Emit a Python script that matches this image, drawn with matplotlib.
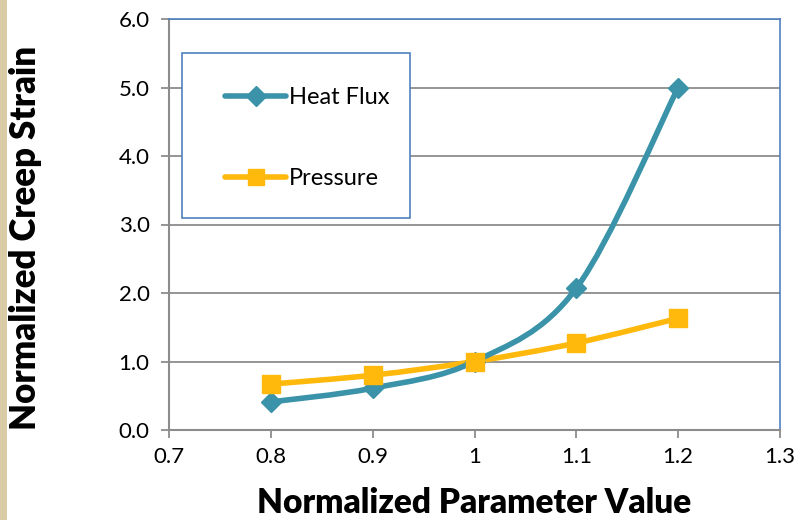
import numpy as np
import matplotlib
matplotlib.use("Agg")
import matplotlib.pyplot as plt
from matplotlib.patches import Rectangle
from matplotlib.path import Path
from matplotlib.patches import PathPatch
from matplotlib.lines import Line2D

x_vals = [0.8, 0.9, 1.0, 1.1, 1.2]
heat_flux = [0.41, 0.61, 1.0, 2.07, 5.0]
pressure = [0.67, 0.80, 1.0, 1.27, 1.63]
x_ticks = [0.7, 0.8, 0.9, 1.0, 1.1, 1.2, 1.3]
x_tick_labels = ["0.7", "0.8", "0.9", "1", "1.1", "1.2", "1.3"]
y_ticks = [0.0, 1.0, 2.0, 3.0, 4.0, 5.0, 6.0]
y_tick_labels = ["0.0", "1.0", "2.0", "3.0", "4.0", "5.0", "6.0"]

teal = "#3a93a8"
gold = "#ffb80c"
font = "Lato"

fig = plt.figure(figsize=(7.96, 5.20), dpi=100)
fig.patches.append(Rectangle((0, 0), 7 / 796, 1, transform=fig.transFigure,
                             facecolor="#d9cba5", edgecolor="none", zorder=0))
L, R, T, B = 169, 780, 19, 430
ax = fig.add_axes([L / 796, 1 - B / 520, (R - L) / 796, (B - T) / 520])
ax.set_xlim(0.7, 1.3)
ax.set_ylim(0, 6)


def px(xp, yp):
    return ((xp - L) / (R - L), (B - yp) / (B - T))


def smooth_path(xs, ys, ax):
    # Excel-style smoothing: Catmull-Rom bezier in display space
    pts = ax.transData.transform(np.column_stack([xs, ys]))
    n = len(pts)
    verts = [pts[0]]
    codes = [Path.MOVETO]
    for i in range(n - 1):
        p0 = pts[i - 1] if i > 0 else pts[i]
        p1 = pts[i]
        p2 = pts[i + 1]
        p3 = pts[i + 2] if i + 2 < n else pts[i + 1]
        c1 = p1 + (p2 - p0) / 6.0
        c2 = p2 - (p3 - p1) / 6.0
        verts += [c1, c2, p2]
        codes += [Path.CURVE4] * 3
    return Path(verts, codes)


fig.canvas.draw()
for ys, col in [(pressure, gold), (heat_flux, teal)]:
    p = smooth_path(x_vals, ys, ax)
    ax.add_patch(PathPatch(p, transform=None, facecolor="none", edgecolor=col,
                           lw=4, capstyle="round", zorder=3))
for ys, col, mk, ms in [(heat_flux, teal, "D", 10), (pressure, gold, "s", 13)]:
    ax.plot(x_vals, ys, linestyle="none", marker=mk, markersize=ms,
            color=col, markeredgecolor=col, zorder=4)

ax.set_xticks(x_ticks)
ax.set_xticklabels(x_tick_labels, fontsize=16, fontfamily=font)
ax.set_yticks(y_ticks)
ax.set_yticklabels(y_tick_labels, fontsize=16, fontfamily=font)
ax.yaxis.grid(True, color="#8c8c8c", lw=1.3)
ax.set_axisbelow(True)
ax.tick_params(axis="both", direction="out", length=6, width=1.3, color="#8c8c8c", pad=6)
ax.tick_params(axis="y", pad=8)
for s in ["left", "bottom"]:
    ax.spines[s].set_color("#8c8c8c")
    ax.spines[s].set_linewidth(1.5)
for s in ["top", "right"]:
    ax.spines[s].set_color("#4f81bd")
    ax.spines[s].set_linewidth(1.2)

ax.set_xlabel("Normalized Parameter Value", fontsize=24, fontweight="heavy",
              fontfamily=font, va="center")
ax.xaxis.set_label_coords(*px(474, 503))
ax.set_ylabel("Normalized Creep Strain", fontsize=25, fontweight="heavy",
              fontfamily=font, va="center")
ax.yaxis.set_label_coords(*px(26, 238))

# legend frame
x0, y0 = px(182, 218)
x1, y1 = px(410, 53)
ax.add_patch(Rectangle((x0, y0), x1 - x0, y1 - y0, transform=ax.transAxes,
                       facecolor="white", edgecolor="#4f81bd", lw=1.2, zorder=5))

handles = [Line2D([], [], color=teal, lw=4, marker="D", markersize=10, solid_capstyle="round"),
           Line2D([], [], color=gold, lw=4, marker="s", markersize=12, solid_capstyle="round")]
leg = ax.legend(handles, ["Heat Flux", "Pressure"], loc="upper left",
                bbox_to_anchor=px(225, 87),
                prop={"family": font, "size": 17}, frameon=False, borderpad=0,
                labelspacing=2.55, handlelength=2.6, handletextpad=0.1,
                borderaxespad=0)
leg.set_zorder(6)

fig.savefig("out.png", dpi=100)
